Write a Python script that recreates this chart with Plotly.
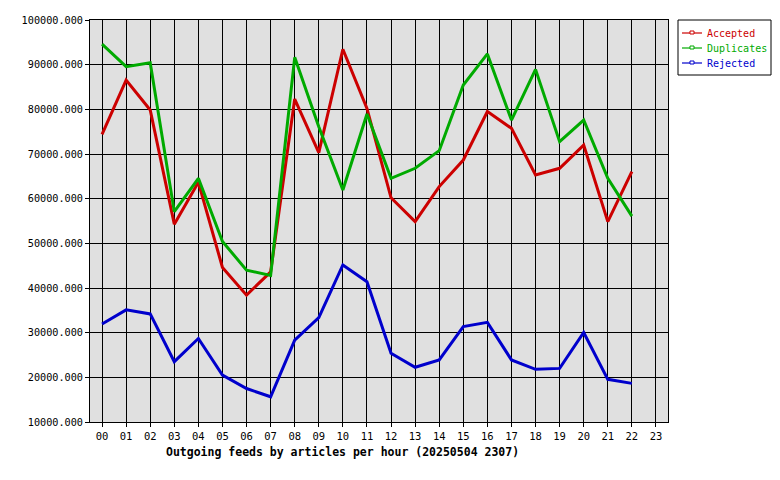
import plotly.graph_objects as go

# hours on the x axis (23 has no data yet)
hours = ["%02d" % h for h in range(24)]

accepted = [74400, 86550, 79850, 54300, 63650, 44600, 38400, 43600,
            82300, 70300, 93450, 80200, 60200, 54850, 62700, 68650,
            79500, 75750, 65300, 66800, 72000, 54850, 66050]
duplicates = [94600, 89550, 90450, 57100, 64550, 50400, 44000, 42800,
              91650, 76100, 61950, 78950, 64550, 66800, 70750, 85450,
              92400, 77600, 88950, 72750, 77600, 64550, 56100]
rejected = [31950, 35100, 34200, 23500, 28700, 20500, 17500, 15650,
            28350, 33350, 45150, 41400, 25400, 22250, 23900, 31350,
            32300, 23900, 21800, 22000, 30050, 19550, 18650]

series = [
    ("Accepted", accepted, "#cc0000"),
    ("Duplicates", duplicates, "#00aa00"),
    ("Rejected", rejected, "#0000cc"),
]

FONT = "DejaVu Sans Mono"

# plot area in window pixels (page body has an 8px margin)
L, R, T, B = 90, 668, 20, 422
BODY = 8
W, H = 780 - BODY, 480 - BODY


def px(x):
    return (x - L) / (R - L)


def py(y):
    return (B - y) / (B - T)


fig = go.Figure()

for name, vals, col in series:
    fig.add_trace(go.Scatter(
        x=hours[:len(vals)], y=vals,
        mode="lines",
        line=dict(color=col, width=3),
        name=name,
        showlegend=False,
    ))

fig.update_layout(
    width=W, height=H,
    margin=dict(l=L - BODY, r=W - (R - BODY), t=T - BODY, b=H - (B - BODY),
                autoexpand=False),
    paper_bgcolor="white",
    plot_bgcolor="#e0e0e0",
    font=dict(family=FONT, size=10, color="black"),
    showlegend=False,
)

fig.update_xaxes(
    type="category",
    categoryorder="array", categoryarray=hours,
    range=[-0.5, 23.5],
    showgrid=True, gridcolor="black", gridwidth=1,
    showline=True, linecolor="black", linewidth=1, mirror=True,
    ticks="outside", ticklen=4, tickcolor="black",
    tickfont=dict(family=FONT, size=10.5),
    zeroline=False,
)

fig.update_yaxes(
    range=[10000, 100000], dtick=10000, tick0=10000,
    tickformat=".3f",
    showgrid=True, gridcolor="black", gridwidth=1,
    showline=True, linecolor="black", linewidth=1, mirror=True,
    ticks="outside", ticklen=4, tickcolor="black",
    tickfont=dict(family=FONT, size=10.2),
    zeroline=False,
)

# legend box drawn by hand (gd-style, compact)
fig.add_shape(type="rect", xref="paper", yref="paper",
              x0=px(678), x1=px(771), y0=py(75), y1=py(20),
              line=dict(color="black", width=1), fillcolor="white")
for i, (name, vals, col) in enumerate(series):
    yy = 33 + 15 * i
    fig.add_shape(type="line", xref="paper", yref="paper",
                  x0=px(682), x1=px(702), y0=py(yy), y1=py(yy),
                  line=dict(color=col, width=1.2))
    fig.add_shape(type="rect", xref="paper", yref="paper",
                  x0=px(690), x1=px(694), y0=py(yy + 1), y1=py(yy - 2),
                  line=dict(color=col, width=1), fillcolor="white")
    fig.add_annotation(text=name, xref="paper", yref="paper",
                       x=px(705), y=py(yy), xanchor="left", yanchor="middle",
                       showarrow=False,
                       font=dict(family=FONT, size=10, color=col))

fig.add_annotation(
    text="<b>Outgoing feeds by articles per hour (20250504 2307)</b>",
    xref="paper", yref="paper", x=px(342.5), y=py(452),
    xanchor="center", yanchor="middle", showarrow=False,
    font=dict(family=FONT, size=11.5, color="black"),
)

fig.write_html("out.html")
